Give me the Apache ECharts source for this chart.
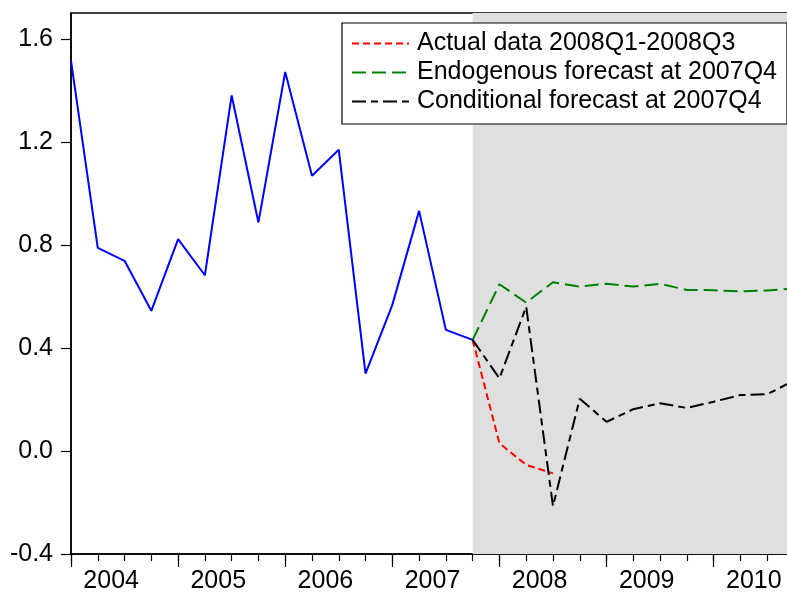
<!DOCTYPE html>
<html>
<head>
<meta charset="utf-8">
<script src="https://cdn.jsdelivr.net/npm/echarts@6/dist/echarts.min.js"></script>
<style>
  html, body { margin: 0; padding: 0; background: #fff; }
  #chart { width: 787px; height: 592px; }
</style>
</head>
<body>
<div id="chart"></div>
<script>
// quarterly index: 0 = 2004Q1 ... 27 = 2010Q4
const years = ["2004", "2005", "2006", "2007", "2008", "2009", "2010"];
const yTicks = [-0.4, 0.0, 0.4, 0.8, 1.2, 1.6];

// observed series 2004Q1-2007Q4
const history = [1.515, 0.788, 0.738, 0.544, 0.822, 0.682, 1.380, 0.887,
                 1.471, 1.068, 1.169, 0.300, 0.567, 0.932, 0.470, 0.431];
// from 2007Q4 onwards
const forecastStart = 15;
const actual = [0.431, 0.030, -0.054, -0.087];
const endogenous = [0.431, 0.647, 0.576, 0.655, 0.638, 0.649, 0.638,
                    0.649, 0.625, 0.624, 0.619, 0.623, 0.631];
const conditional = [0.431, 0.282, 0.560, -0.214, 0.203, 0.113, 0.162,
                     0.185, 0.167, 0.191, 0.217, 0.220, 0.273];

const xMax = 26.74;
const font = "'Liberation Sans', Arial, sans-serif";

const pairs = (arr, start) => arr.map((v, i) => [start + i, v]);
const quarterTicks = Array.from({ length: 27 }, (_, i) => i);
const yearTicks = years.map((_, i) => i * 4);
const yearLabelPos = years.map((_, i) => i * 4 + 1.5);

const chart = echarts.init(document.getElementById("chart"), null, { renderer: "canvas" });

const dashedLine = (name, data, color, dash) => ({
  name,
  type: "line",
  data: pairs(data, forecastStart),
  symbol: "none",
  z: 3,
  lineStyle: { color, width: 2, type: dash },
  itemStyle: { color },
});

chart.setOption({
  animation: false,
  backgroundColor: "#fff",
  textStyle: { fontFamily: font },
  grid: {
    left: 71, top: 13, right: 0, bottom: 38,
    outerBoundsMode: "none",
    show: true, borderColor: "#000", borderWidth: 1.5, backgroundColor: "transparent",
  },
  legend: {
    left: 342, top: 23,
    orient: "vertical",
    data: ["Actual data 2008Q1-2008Q3", "Endogenous forecast at 2007Q4", "Conditional forecast at 2007Q4"],
    itemWidth: 57, itemHeight: 10, itemGap: 4,
    padding: [8, 10, 10, 9],
    borderColor: "#000", borderWidth: 1.2,
    backgroundColor: "#fff",
    itemStyle: { opacity: 0 },
    textStyle: { fontFamily: font, fontSize: 25, color: "#000", padding: [0, 0, 0, 3] },
  },
  xAxis: [
    {
      type: "value", min: 0, max: xMax, interval: 4,
      axisLine: { onZero: false, lineStyle: { color: "#000", width: 1.5 } },
      axisTick: { show: true, customValues: quarterTicks, length: 7, lineStyle: { color: "#000", width: 1.2 } },
      axisLabel: {
        customValues: yearLabelPos, margin: 15,
        fontFamily: font, fontSize: 25, color: "#000",
        formatter: (v) => years[Math.round((v - 1.5) / 4)],
      },
      splitLine: { show: false },
    },
    {
      type: "value", min: 0, max: xMax, interval: 4, position: "bottom",
      axisLine: { show: false, onZero: false },
      axisTick: { show: true, customValues: yearTicks, length: 13, lineStyle: { color: "#000", width: 1.2 } },
      axisLabel: { show: false },
      splitLine: { show: false },
    },
  ],
  yAxis: {
    type: "value", min: -0.4, max: 1.7, interval: 0.4,
    axisLine: { show: true, onZero: false, lineStyle: { color: "#000", width: 1.5 } },
    axisTick: { show: true, customValues: yTicks, length: 10, lineStyle: { color: "#000", width: 1.2 } },
    axisLabel: {
      customValues: yTicks, margin: 18,
      fontFamily: font, fontSize: 25, color: "#000",
      formatter: (v) => v.toFixed(1),
    },
    splitLine: { show: false },
  },
  series: [
    {
      name: "shade",
      type: "line",
      data: [],
      z: 1,
      silent: true,
      markArea: {
        silent: true,
        itemStyle: { color: "#dfdfdf" },
        data: [[{ xAxis: forecastStart }, { xAxis: xMax }]],
      },
    },
    {
      name: "History",
      type: "line",
      data: pairs(history, 0),
      symbol: "none",
      z: 3,
      lineStyle: { color: "#0000ff", width: 2 },
      itemStyle: { color: "#0000ff" },
    },
    dashedLine("Actual data 2008Q1-2008Q3", actual, "#ff0000", [7, 4]),
    dashedLine("Endogenous forecast at 2007Q4", endogenous, "#008000", [14, 6]),
    dashedLine("Conditional forecast at 2007Q4", conditional, "#000000", [14, 5, 7, 5]),
  ],
});
</script>
</body>
</html>
